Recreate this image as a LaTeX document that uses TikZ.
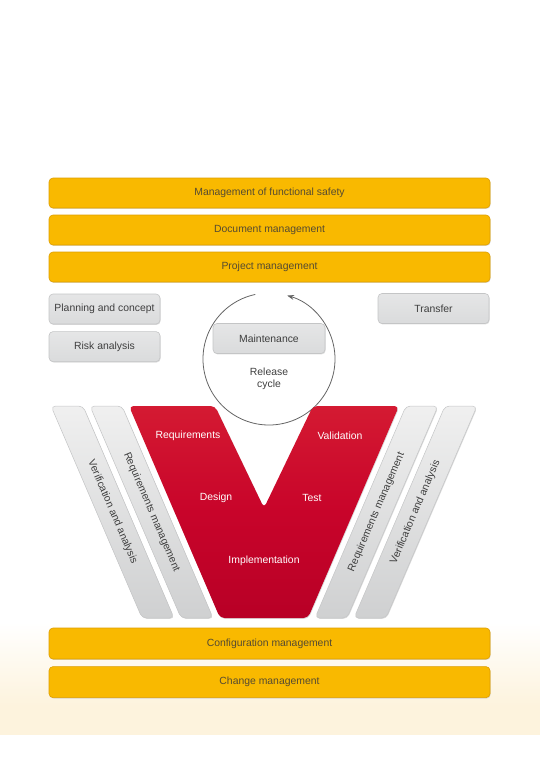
\documentclass[tikz,border=0pt]{standalone}
\usepackage{fontspec}
\setmainfont{Liberation Sans}
\usetikzlibrary{positioning, arrows.meta, shadows}

\definecolor{barorange}{RGB}{249,185,0}
\definecolor{barborder}{RGB}{222,158,0}
\definecolor{bartext}{RGB}{84,74,50}
\definecolor{boxgray}{RGB}{218,219,220}
\definecolor{boxborder}{RGB}{196,197,198}
\definecolor{boxtext}{RGB}{62,62,62}
\definecolor{vred}{RGB}{200,4,42}
\definecolor{vredtop}{RGB}{212,26,50}
\definecolor{vreddark}{RGB}{184,0,38}
\definecolor{cyclegray}{RGB}{100,100,100}
\definecolor{bgcream}{RGB}{253,243,221}

\newcommand{\diafont}{\fontsize{10.4}{12.5}\selectfont}

\tikzset{
  softshadow/.style={drop shadow={shadow xshift=0.6pt, shadow yshift=-0.9pt, opacity=0.28}},
  bar/.style={draw=barborder, fill=barorange, line width=0.6pt, rounded corners=4pt,
    minimum width=441pt, minimum height=30pt, text=bartext, font=\diafont, softshadow},
  graybox/.style={draw=boxborder, top color=boxgray!70!white, bottom color=boxgray, line width=0.6pt,
    rounded corners=4pt, minimum width=111pt, minimum height=30pt, text=boxtext, font=\diafont, softshadow},
  strip/.style={draw=boxborder, top color=white!94!black, bottom color=boxgray!95!black,
    line width=0.5pt, rounded corners=4.5pt, softshadow},
  vshape/.style={top color=vredtop, bottom color=vreddark, middle color=vred,
    rounded corners=4.5pt, softshadow},
  striplabel/.style={text=boxtext, font=\diafont, inner sep=0pt},
  vlabel/.style={text=white, font=\diafont, inner sep=1pt},
  cyclelabel/.style={text=boxtext, font=\diafont, align=center, inner sep=0pt}
}

\begin{document}
\begin{tikzpicture}[x=1pt, y=-1pt]
  \useasboundingbox (0,0) rectangle (540,764);

  % background band
  \shade[top color=white, bottom color=bgcream] (0,622) rectangle (540,706);
  \fill[bgcream] (0,705.5) rectangle (540,735);

  % top bars
  \foreach \y/\name/\txt in {193/safety/Management of functional safety,
                             230/docs/Document management,
                             267/proj/Project management} {
    \node[bar] (\name) at (269.5,\y) {\txt};
  }

  % phases
  \node[graybox] (plan) at (104.5,309) {Planning and concept};
  \node[graybox, below=7pt of plan] (risk) {Risk analysis};
  \node[graybox] (transfer) at (433.5,308.5) {Transfer};
  \node[graybox, minimum width=112pt] (maint) at (269,338.5) {Maintenance};

  % release cycle
  \coordinate (cyc) at (269,359);
  \draw[cyclegray, line width=0.8pt, -{Stealth[length=7pt, width=5pt]}]
    (cyc) ++(102:66pt) arc[start angle=102, end angle=434, radius=66pt];
  \node[cyclelabel] (release) at (269,379) {Release\\cycle};

  % side strips
  \foreach \x in {51, 90} {
    \draw[strip] (\x,406) -- (\x+32,406) -- (\x+123,618) -- (\x+91,618) -- cycle;
  }
  \foreach \x in {406, 445} {
    \draw[strip] (\x,406) -- (\x+32,406) -- (\x-59,618) -- (\x-91,618) -- cycle;
  }
  \node[striplabel, rotate=-66.8] (verleft) at (112.5,512) {Verification and analysis};
  \node[striplabel, rotate=-66.8] (reqleft) at (151.5,512) {Requirements management};
  \node[striplabel, rotate=66.8] (reqright) at (376.5,512) {Requirements management};
  \node[striplabel, rotate=66.8] (verright) at (415.5,512) {Verification and analysis};

  % V model
  \path[vshape] (129,406) -- (215,406) -- (264,508) -- (313,406) -- (399,406)
    -- (308,618) -- (220,618) -- cycle;
  \node[vlabel] (req) at (188,436) {Requirements};
  \node[vlabel] (design) at (216,498) {Design};
  \node[vlabel] (impl) at (264,561) {Implementation};
  \node[vlabel] (valid) at (340,436) {Validation};
  \node[vlabel] (test) at (312,498) {Test};

  % bottom bars
  \node[bar, minimum height=31pt] (config) at (269.5,643.5) {Configuration management};
  \node[bar, minimum height=31pt, below=7pt of config] (change) {Change management};
\end{tikzpicture}
\end{document}
